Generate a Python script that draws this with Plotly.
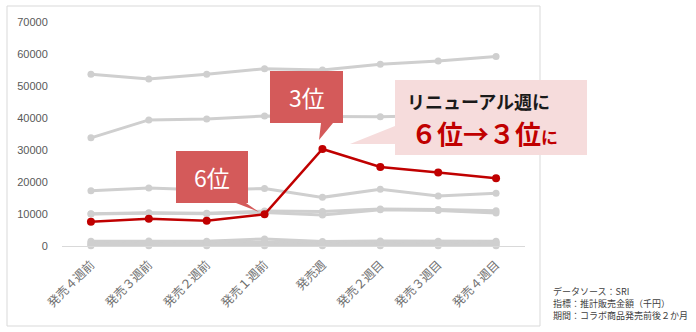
import plotly.graph_objects as go

categories = ["発売４週前", "発売３週前", "発売２週前", "発売１週前", "発売週", "発売２週目", "発売３週目", "発売４週目"]

target_values = [7600, 8500, 7900, 9900, 30300, 24700, 23000, 21200]

other_1 = [53700, 52200, 53700, 55400, 55000, 56800, 57800, 59200]
other_2 = [33800, 39400, 39700, 40600, 40500, 40400, 40800, 41200]
other_3 = [17300, 18100, 17500, 18000, 15200, 17700, 15600, 16500]
other_4 = [10100, 10400, 10200, 10900, 10800, 11600, 11400, 11000]
other_5 = [10000, 10200, 10100, 10500, 9700, 11300, 11100, 10300]
other_6 = [1500, 1600, 1500, 2200, 1400, 1600, 1500, 1500]
other_7 = [1000, 1100, 1000, 1200, 1000, 1100, 1100, 1200]
other_8 = [600, 700, 600, 700, 600, 700, 700, 800]
other_9 = [300, 300, 300, 400, 300, 300, 400, 400]
other_10 = [100, 100, 100, 100, 100, 100, 100, 100]

others = [other_1, other_2, other_3, other_4, other_5, other_6, other_7, other_8, other_9, other_10]

y_ticks = [0, 10000, 20000, 30000, 40000, 50000, 60000, 70000]

source_lines = ["データソース：SRI", "指標：推計販売金額（千円）", "期間：コラボ商品発売前後２か月"]

W, H = 696, 332
ML, MR, MT, MB = 62, 171, 22, 86
PW, PH = W - ML - MR, H - MT - MB

GRAY = "#CFCFCF"
RED = "#C00000"
BOX = "#D45A5A"
PINK = "#F6DCDC"
JP = "Noto Sans CJK JP"


def px(x):
    return (x - ML) / PW


def py(y):
    return (H - MB - y) / PH


def path(points):
    return "M " + " L ".join(f"{px(x):.5f},{py(y):.5f}" for x, y in points) + " Z"


fig = go.Figure()
for vals in others:
    fig.add_trace(go.Scatter(
        x=categories, y=vals, mode="lines+markers",
        line=dict(color=GRAY, width=3),
        marker=dict(color=GRAY, size=7),
        cliponaxis=False, showlegend=False, hoverinfo="skip"))

fig.add_trace(go.Scatter(
    x=categories, y=target_values, mode="lines+markers",
    line=dict(color=RED, width=2.5),
    marker=dict(color=RED, size=8),
    cliponaxis=False, showlegend=False))

shapes = [
    # chart frame
    dict(type="rect", xref="paper", yref="paper",
         x0=px(7), x1=px(540), y0=py(326), y1=py(6),
         line=dict(color="#D9D9D9", width=1), layer="below"),
    # 3位 callout
    dict(type="path", xref="paper", yref="paper",
         path=path([(270, 71), (343, 71), (343, 123), (333, 123), (319, 140), (321, 123), (270, 123)]),
         fillcolor=BOX, line=dict(width=0), layer="above"),
    # 6位 callout
    dict(type="path", xref="paper", yref="paper",
         path=path([(176, 151), (248, 151), (248, 203), (246, 203), (259, 212), (236, 203), (176, 203)]),
         fillcolor=BOX, line=dict(width=0), layer="above"),
    # pink comment
    dict(type="path", xref="paper", yref="paper",
         path=path([(395, 80), (587, 80), (587, 155), (395, 155), (395, 144), (350, 144), (395, 126)]),
         fillcolor=PINK, line=dict(width=0), layer="above"),
]

annotations = [
    dict(x=px(307), y=py(97), xref="paper", yref="paper", text="3位", showarrow=False,
         font=dict(family=JP, size=23, color="white"), xanchor="center", yanchor="middle"),
    dict(x=px(212), y=py(177), xref="paper", yref="paper", text="6位", showarrow=False,
         font=dict(family=JP, size=23, color="white"), xanchor="center", yanchor="middle"),
    dict(x=px(406), y=py(101), xref="paper", yref="paper", text="<b>リニューアル週に</b>", showarrow=False,
         borderpad=0,
         font=dict(family=JP, size=18, color="#1A1A1A"), xanchor="left", yanchor="middle"),
    dict(x=px(410), y=py(132), xref="paper", yref="paper",
         text="<b>６位→３位<span style='font-size:17px'>に</span></b>", showarrow=False,
         borderpad=0,
         font=dict(family=JP, size=26, color=RED), xanchor="left", yanchor="middle"),
]
for i, line in enumerate(source_lines):
    annotations.append(dict(
        x=px(552), y=py(291 + 12 * i), xref="paper", yref="paper", text=line, showarrow=False,
        borderpad=0,
        font=dict(family=JP, size=9, color="#404040"), xanchor="left", yanchor="middle"))

fig.update_layout(
    width=W, height=H,
    margin=dict(l=ML, r=MR, t=MT, b=MB),
    paper_bgcolor="white", plot_bgcolor="white",
    shapes=shapes, annotations=annotations,
    xaxis=dict(type="category", range=[-0.5, 7.5], showgrid=False, zeroline=False,
               showline=True, linecolor="#D9D9D9", linewidth=1,
               tickangle=-45, ticks="outside", ticklen=6, tickcolor="rgba(0,0,0,0)",
               tickfont=dict(family=JP, size=12, color="#6E6E6E")),
    yaxis=dict(range=[0, 70000], tickvals=y_ticks, ticktext=[str(v) for v in y_ticks],
               showgrid=False, zeroline=False, showline=False,
               ticks="outside", ticklen=11, tickcolor="rgba(0,0,0,0)",
               tickfont=dict(family="Liberation Sans", size=11, color="#595959")),
)

fig.write_html("out.html")
